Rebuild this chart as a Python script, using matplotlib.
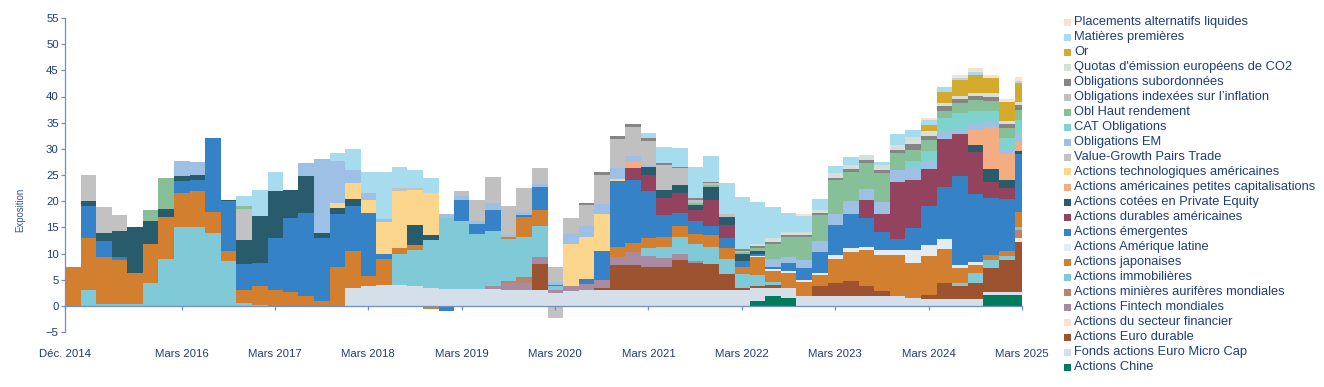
import numpy as np
import pandas as pd
import matplotlib
matplotlib.use("Agg")
import matplotlib.pyplot as plt
from matplotlib.patches import Rectangle

plt.rcParams['font.family'] = ['Liberation Sans', 'DejaVu Sans']

# --- Données (pas de 2 mois, de déc. 2014 à févr. 2025) ---
dates = pd.date_range('2014-12-01', periods=62, freq='2MS')
date_fin = pd.Timestamp('2025-03-01')

chine = [
    0, 0, 0, 0, 0, 0, 0, 0, 0, 0,
    0, 0, 0, 0, 0, 0, 0, 0, 0, 0,
    0, 0, 0, 0, 0, 0, 0, 0, 0, 0,
    0, 0, 0, 0, 0, 0, 0, 0, 0, 0,
    0, 0, 0, 0, 1, 1.8, 1.5, 0, 0, 0,
    0, 0, 0, 0, 0, 0, 0, 0, 0, 2.1,
    2.1, 2.1]
micro_cap = [
    0, 0, 0, 0, 0, 0, 0, 0, 0, 0,
    0, 0, 0, 0, 0, 0, 0, 0, 3.5, 3.7,
    4, 4, 3.8, 3.5, 3.3, 3.2, 3.2, 3.2, 3, 3,
    3, 2.5, 2.8, 3, 3, 3, 3, 3, 3, 3,
    3.1, 3, 3, 3, 2.5, 1.6, 2, 1.8, 1.8, 1.8,
    1.8, 1.8, 1.8, 1.8, 1.5, 1.3, 1.3, 1.3, 1.3, 0.6,
    0.6, 0.6]
euro_durable = [
    0, 0, 0, 0, 0, 0, 0, 0, 0, 0,
    0, 0, 0, 0, 0, 0, 0, 0, 0, 0,
    0, 0, 0, 0, 0, 0, 0, 0, 0, 0,
    5, 0, 0, 0, 0.5, 4.8, 4.8, 4.5, 4.5, 5.8,
    5, 5, 3, 0.5, 0.3, 0.6, 0, 0, 2, 2.5,
    3, 2, 1, 0, 0, 0.8, 3, 2.5, 3, 4.5,
    6, 9.5]
financier = [
    0, 0, 0, 0, 0, 0, 0, 0, 0, 0,
    0, 0, 0, 0, 0, 0, 0, 0, 0, 0,
    0, 0, 0, 0, 0, 0, 0, 0, 0, 0,
    0, 0, 0, 0, 0, 0, 0, 0, 0, 0,
    0, 0, 0, 0, 0, 0, 0, 0, 0, 0,
    0, 0, 0, 0, 0, 0, 0, 0, 0, 0,
    0, 0.8]
fintech = [
    0, 0, 0, 0, 0, 0, 0, 0, 0, 0,
    0, 0, 0, 0, 0, 0, 0, 0, 0, 0,
    0, 0, 0, 0, 0, 0, 0, 0.6, 1.3, 1.3,
    1.3, 0.5, 1, 1.2, 1.5, 1.6, 2.5, 2, 1.6, 1.2,
    0.5, 0, 0, 0, 0, 0, 0, 0, 0, 0,
    0, 0, 0, 0, 0, 0, 0, 0, 0, 0,
    0, 0]
minieres = [
    0, 0, 0, 0, 0, 0, 0, 0, 0, 0,
    0, 0, 0, 0, 0, 0, 0, 0, 0, 0,
    0, 0, 0, 0, 0, 0, 0, 0, 0.5, 1.3,
    0, 0, 0, 0, 0, 0, 0, 0, 0, 0,
    0, 0, 0, 0, 0, 0, 0, 0, 0, 0,
    0, 0, 0, 0, 0, 0, 0, 0, 0, 0,
    0, 1.5]
immobilieres = [
    0, 3, 0.4, 0.3, 0.3, 4.3, 9, 15, 15, 14,
    8.5, 0.5, 0.2, 0, 0, 0, 0, 0, 0, 0,
    0, 6, 6.9, 9, 13.5, 13, 10.5, 10.5, 8, 7.6,
    6, 0.7, 0, 0, 0, 0, 0, 1.5, 2.2, 3.2,
    3.2, 3.3, 3, 2.5, 2, 0.6, 0, 0, 0, 0,
    0, 0, 0, 0, 0, 0, 0, 0.5, 2, 1.5,
    0.8, 0.5]
japonaises = [
    7.5, 10, 9, 8.5, 6, 7.5, 8, 6.5, 7, 4,
    2, 2.5, 3.5, 3, 2.7, 1.8, 1, 7.5, 7, 2,
    5, 1, 1, -0.7, 0, 0, 0, 0, 0.3, 3.8,
    3, 0, 0, 0, 0, 1.9, 1.7, 2, 1.9, 2,
    2, 2.3, 2, 1.5, 3.5, 2, 2.7, 2.7, 2, 4.7,
    5.5, 6.8, 7, 7.9, 6.7, 7.5, 6.5, 3, 1.5, 1,
    1, 3]
amerique_latine = [
    0, 0, 0, 0, 0, 0, 0, 0, 0, 0,
    0, 0, 0, 0, 0, 0, 0, 0, 0, 0,
    0, 0, 0, 0, 0, 0, 0, 0, 0, 0,
    0, 0, 0, 0, 0, 0, 0, 0, 0, 0,
    0, 0, 0, 0, 0.3, 0.4, 0.4, 0.4, 0.5, 0.8,
    0.8, 0.7, 0.8, 1, 2.5, 2, 2, 0.5, 0.5, 0,
    0, 0]
emergentes = [
    0, 6, 3, 0.5, 0, 0, 0, 2.3, 2, 14,
    9.5, 5, 4.5, 10, 14, 16, 12, 10, 8.5, 12,
    1, 0, 0, 0, -1, 4, 2, 4, 0, 0.3,
    4.5, 0.3, 0, 1, 5.5, 12.5, 12, 9, 4.2, 2.5,
    2.5, 1.6, 2, 1, 0.3, 0.4, 1.5, 2.3, 4, 5.6,
    6.5, 5.5, 3.5, 2, 4.1, 7.5, 10, 17, 13, 11,
    10, 11]
durables_us = [
    0, 0, 0, 0, 0, 0, 0, 0, 0, 0,
    0, 0, 0, 0, 0, 0, 0, 0, 0, 0,
    0, 0, 0, 0, 0, 0, 0, 0, 0, 0,
    0, 0, 0, 0, 0, 0, 2.3, 3, 3.2, 3.8,
    2, 5, 2.5, 0, 0, 0, 0, 0, 0, 0,
    0, 3.5, 3.5, 11, 9.2, 7, 9, 8, 8, 3,
    2, 0]
private_equity = [
    0, 1, 1.5, 5, 8.7, 4.5, 1.5, 1, 1, 0,
    0.3, 4.5, 9, 9, 5.5, 7, 1, 1.2, 1.5, 0,
    0, 0, 3.8, 1, 0, 0, 0, 0, 0, 0,
    0, 0, 0, 0, 0, 0, 0, 1.5, 1.6, 1.6,
    1, 2.5, 1.5, 1.5, 0.5, 0, 0, 0, 0, 0,
    0, 0, 0, 0, 0, 0, 0, 0, 1.5, 2.5,
    1.5, 0.5]
petites_caps = [
    0, 0, 0, 0, 0, 0, 0, 0, 0, 0,
    0, 0, 0, 0, 0, 0, 0, 0, 0, 0,
    0, 0, 0, 0, 0, 0, 0, 0, 0, 0,
    0, 0, 0, 0, 0, 0, 1.3, 0, 0, 0,
    0, 0, 0, 0, 0, 0, 0, 0, 0, 0,
    0, 0, 0, 0, 0, 0, 0, 0, 3, 8,
    5, 2]
tech_us = [
    0, 0, 0, 0, 0, 0, 0, 0, 0, 0,
    0, 0, 0, 0, 0, 0, 0, 1, 3, 2.5,
    6, 11, 6.7, 8, 0, 0, 0, 0, 0, 0,
    0, 0, 8, 8, 7, 0.5, 0, 0, 0, 0,
    0, 0, 0, 0, 0, 0, 0, 0, 0, 0,
    0, 0, 0, 0, 0, 0, 0, 0, 0, 0,
    0, 0]
value_growth = [
    0, 5, 5, 3, 0, 0, 0, 0, 0, 0,
    0, 6, 0, 0, 0, 0, 0, 0, 0, 0,
    0, 0.5, 0.3, 0, 0, 0, 0, 0, 0, 0,
    0, -2.4, 0, 0, 0, 0, 0, 0, 0, 0,
    0, 0, 0, 0, 0, 0, 0, 0, 0, 0,
    0, 0, 0, 0, 0, 0, 0, 0, 0, 0,
    0, 0]
oblig_em = [
    0, 0, 0, 0, 0, 0, 0, 2.8, 2.5, 0,
    0, 0, 0, 0, 0, 2.5, 14, 8, 2.5, 1.3,
    0.5, 0, 0, 0, 0.7, 0.8, 0.5, 1.3, 0.5, 0.7,
    0.5, 0.5, 2, 2, 2, 2, 1, 0.5, 0, 0,
    0, 0, 0, 0, 0, 1.5, 1.3, 1.5, 2, 2.1,
    2.5, 2, 2.2, 2.3, 2.4, 1.5, 1.5, 1, 1, 1,
    1, 1.5]
cat_oblig = [
    0, 0, 0, 0, 0, 0, 0, 0, 0, 0,
    0, 0, 0, 0, 0, 0, 0, 0, 0, 0,
    0, 0, 0, 0, 0, 0, 0, 0, 0, 0,
    0, 0, 0, 0, 0, 0, 0, 0, 0, 0,
    0, 0, 0, 0, 0, 0, 0, 0, 0, 0,
    0, 0, 0, 0, 1.3, 2, 2.5, 3, 2.5, 2,
    2, 2.5]
haut_rendement = [
    0, 0, 0, 0, 0, 2, 6, 0, 0, 0,
    0, 0.5, 0, 0, 0, 0, 0, 0, 0, 0,
    0, 0, 0, 0, 0, 0, 0, 0, 0, 0,
    0, 0, 0, 0, 0, 0, 0, 0, 0, 0,
    0.3, 0.4, 0, 0.3, 0.7, 3, 3.8, 4.5, 5, 6.5,
    5.5, 5, 5.5, 3.2, 2, 2, 1.5, 2, 2, 2,
    2, 2]
inflation = [
    0, 0, 0, 0, 0, 0, 0, 0, 0, 0,
    0, 0, 0, 0, 0, 0, 0, 0, 0, 0,
    0, 0, 0, 0, 0, 1, 4, 5, 5.5, 4.5,
    3, 3, 3, 4, 5.5, 5.5, 5.5, 4.5, 4.8, 3.2,
    0.7, 0.3, 0.5, 0.2, 0, 0, 0, 0, 0, 0,
    0, 0, 0, 0, 0, 0, 0, 0, 0, 0,
    0, 0]
subordonnees = [
    0, 0, 0, 0, 0, 0, 0, 0, 0, 0,
    0, 0, 0, 0, 0, 0, 0, 0, 0, 0,
    0, 0, 0, 0, 0, 0, 0, 0, 0, 0,
    0, 0, 0, 0.5, 0.6, 0.6, 0.7, 0.5, 0.3, 0.3,
    0.3, 0.3, 0, 0.3, 0.3, 0.3, 0.3, 0.4, 0.4, 0.4,
    0.5, 0.5, 0.6, 0.6, 1.2, 0.8, 0.8, 0.8, 0.8, 0.8,
    0.8, 0.8]
co2 = [
    0, 0, 0, 0, 0, 0, 0, 0, 0, 0,
    0, 0, 0, 0, 0, 0, 0, 0, 0, 0,
    0, 0, 0, 0, 0, 0, 0, 0, 0, 0,
    0, 0, 0, 0, 0, 0, 0, 0, 0, 0,
    0, 0, 0, 0, 0.5, 0.7, 0.7, 0.6, 0.7, 1,
    0.8, 1, 1, 1, 1.3, 1, 0.7, 0.5, 0.6, 0.6,
    0.6, 0.7]
or_ = [
    0, 0, 0, 0, 0, 0, 0, 0, 0, 0,
    0, 0, 0, 0, 0, 0, 0, 0, 0, 0,
    0, 0, 0, 0, 0, 0, 0, 0, 0, 0,
    0, 0, 0, 0, 0, 0, 0, 0, 0, 0,
    0, 0, 0, 0, 0, 0, 0, 0, 0, 0,
    0, 0, 0, 0, 0, 1.2, 2, 3, 3.5, 3,
    3.5, 3.5]
matieres = [
    0, 0, 0, 0, 0, 0, 0, 0, 0, 0,
    0, 2, 5, 3.5, 0, 0, 0, 1.5, 4, 4,
    9, 4, 3.5, 3, 0, 0, 0, 0, 0, 0,
    0, 0, 0, 0, 0, 0, 0, 1, 3, 3.5,
    6, 5, 6, 10, 8, 6, 3.5, 3, 2, 1.4,
    1.5, 0, 0.5, 2, 1.4, 1, 1, 0.5, 0.5, 0,
    0, 0.5]
alternatifs = [
    0, 0, 0, 0, 0, 0, 0, 0, 0, 0,
    0, 0, 0, 0, 0, 0, 0, 0, 0, 0,
    0, 0, 0, 0, 0, 0, 0, 0, 0, 0,
    0, 0, 0, 0, 0, 0, 0, 0, 0, 0,
    0, 0, 0, 0, 0, 0, 0, 0.3, 0, 0,
    0, 0, 0, 0, 0, 0.3, 0, 0.5, 0.8, 0.6,
    0.6, 0.8]

# du bas vers le haut de la pile
series = [
    ('Actions Chine', chine, '#007c5c'),
    ('Fonds actions Euro Micro Cap', micro_cap, '#d5dfe9'),
    ('Actions Euro durable', euro_durable, '#9d5230'),
    ('Actions du secteur financier', financier, '#fde2d0'),
    ('Actions Fintech mondiales', fintech, '#a88ba0'),
    ('Actions minières aurifères mondiales', minieres, '#b9836c'),
    ('Actions immobilières', immobilieres, '#80c9d6'),
    ('Actions japonaises', japonaises, '#d2802f'),
    ('Actions Amérique latine', amerique_latine, '#e5ebee'),
    ('Actions émergentes', emergentes, '#3582c6'),
    ('Actions durables américaines', durables_us, '#94435e'),
    ('Actions cotées en Private Equity', private_equity, '#285b6b'),
    ('Actions américaines petites capitalisations', petites_caps, '#f4ad82'),
    ('Actions technologiques américaines', tech_us, '#fdd68e'),
    ('Value-Growth Pairs Trade', value_growth, '#c2c2c2'),
    ('Obligations EM', oblig_em, '#9dc0e4'),
    ('CAT Obligations', cat_oblig, '#7fd3cf'),
    ('Obl Haut rendement', haut_rendement, '#86bf98'),
    ('Obligations indexées sur l\u2019inflation', inflation, '#c0c0c0'),
    ('Obligations subordonnées', subordonnees, '#858585'),
    ("Quotas d'émission européens de CO2", co2, '#d5e0d9'),
    ('Or', or_, '#d4aa2c'),
    ('Matières premières', matieres, '#a7dcef'),
    ('Placements alternatifs liquides', alternatifs, '#fde0cc'),
]

texte = '#1f3d7a'
axe = '#6f8fc9'

fig = plt.figure(figsize=(13.24, 3.87), dpi=100)
ax = fig.add_axes([65 / 1324, 55 / 387, 957 / 1324, 314 / 387])

x = list(dates) + [date_fin]
base_pos = np.zeros(len(x))
base_neg = np.zeros(len(x))
couches = []
for nom, vals, col in series:
    v = np.append(np.array(vals, dtype=float), vals[-1])
    haut = base_pos + np.clip(v, 0, None)
    bas = base_neg + np.clip(v, None, 0)
    couches.append((haut, bas, col))
    base_pos, base_neg = haut, bas

# on peint du haut vers le bas pour éviter les liserés entre couches
for haut, bas, col in reversed(couches):
    ax.fill_between(x, 0, haut, step='post', color=col, lw=0)
    if bas.min() < 0:
        ax.fill_between(x, bas, 0, step='post', color=col, lw=0)

ax.set_xlim(dates[0], date_fin)
ax.set_ylim(-5, 55)
ax.set_yticks(range(-5, 56, 5))

ticks = [pd.Timestamp('2014-12-01')] + [pd.Timestamp(f'{a}-03-01') for a in range(2016, 2026)]
labels = ['Déc. 2014'] + [f'Mars {a}' for a in range(2016, 2026)]
ax.set_xticks(ticks)
ax.set_xticklabels(labels)

for s in ['top', 'right']:
    ax.spines[s].set_visible(False)
ax.spines['bottom'].set_position(('data', 0))
ax.spines['bottom'].set_color(axe)
ax.spines['left'].set_color(axe)
ax.spines['bottom'].set_linewidth(0.9)
ax.spines['left'].set_linewidth(0.9)
ax.tick_params(axis='x', colors=axe, labelcolor=texte, labelsize=8.2,
               length=3, width=0.9, pad=28)
ax.tick_params(axis='y', colors=axe, labelcolor=texte, labelsize=8.2,
               length=3, width=0.9, pad=1.5)

fig.text(20 / 1324, 1 - 210 / 387, 'Exposition', rotation=90, ha='center',
         va='center', fontsize=6.9, color='#2f5597')

# légende (du haut vers le bas)
for k, (nom, vals, col) in enumerate(reversed(series)):
    yc = 22 + k * 15.0
    fig.add_artist(Rectangle((1064 / 1324, 1 - (yc + 3.5) / 387), 7 / 1324, 7 / 387,
                             transform=fig.transFigure, color=col, lw=0))
    fig.text(1074 / 1324, 1 - yc / 387, nom, ha='left', va='center',
             fontsize=9.3, color=texte)

fig.savefig('out.png', dpi=100)
